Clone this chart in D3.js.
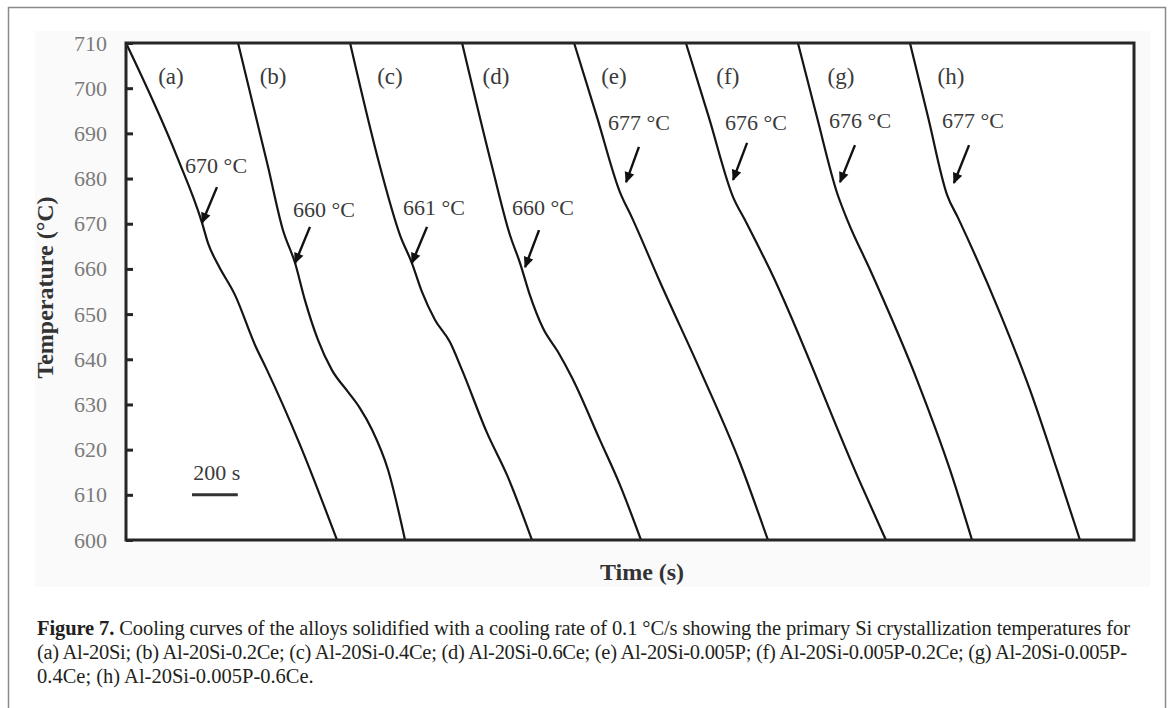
<!DOCTYPE html>
<html>
<head>
<meta charset="utf-8">
<script src="https://cdn.jsdelivr.net/npm/d3@7"></script>
<style>
  body { margin: 0; background: #fff; }
  text { font-family: "Liberation Serif", "Times New Roman", serif; }
</style>
</head>
<body>
<div class="cooling-chart"></div>
<script>
// cooling curves, [time (s), temperature (°C)]
var curveA = [[0, 710], [223, 684.8], [332, 670.2], [358, 665.7], [402, 660.9], [476, 654.2], [567, 642.7], [611, 638.1], [760, 621.0], [921, 600]];
var curveB = [[489, 710], [620, 682.6], [685, 668.6], [738, 661.3], [781, 653.1], [838, 644.3], [899, 637.6], [969, 632.8],
  [1021, 629.2], [1074, 624.4], [1144, 615.5], [1218, 600]];
var curveC = [[978, 710], [1109, 682.6], [1196, 667.5], [1248, 661.3], [1292, 654.9], [1349, 648.7], [1414, 643.8], [1467, 637.6],
  [1576, 623.7], [1663, 614.4], [1772, 600]];
var curveD = [[1467, 710], [1598, 682.6], [1676, 667.5], [1720, 661.3], [1763, 654.2], [1820, 646.9], [1886, 641.6], [1947, 635.9],
  [2069, 622.1], [2156, 612.2], [2248, 600]];
var curveE = [[1956, 710], [2056, 693.6], [2156, 677.0], [2209, 671.3], [2331, 657.1], [2506, 637.6], [2680, 617.1], [2802, 600]];
var curveF = [[2444, 710], [2544, 693.6], [2650, 675.9], [2702, 670.8], [2811, 659.8], [3204, 612.8], [3317, 600]];
var curveG = [[2933, 710], [3016, 693.6], [3104, 676.8], [3152, 670.4], [3248, 659.8], [3453, 635.4], [3597, 615.5], [3693, 600]];
var curveH = [[3422, 710], [3501, 693.6], [3584, 676.4], [3632, 671.3], [3815, 650.2], [3946, 633.2], [4064, 615.5], [4164, 600]];

var curves = [curveA, curveB, curveC, curveD, curveE, curveF, curveG, curveH];
var curveNames = ["(a)", "(b)", "(c)", "(d)", "(e)", "(f)", "(g)", "(h)"];
var nameTimes = [196, 642, 1152, 1615, 2130, 2627, 3121, 3601];
var nameTemp = 701;

// primary Si crystallization temperatures and their arrows
var onsetLabels = ["670 °C", "660 °C", "661 °C", "660 °C", "677 °C", "676 °C", "676 °C", "677 °C"];
var onsetLabelAt = [[258, 681.2], [729, 671.5], [1209, 671.9], [1685, 671.9], [2104, 690.7], [2615, 690.7], [3069, 691.2], [3562, 691.2]];
var arrowTail = [[397, 678.1], [803, 669.3], [1314, 669.3], [1803, 668.6], [2239, 687.0], [2711, 687.9], [3182, 687.4], [3680, 687.4]];
var arrowTip = [[332, 670.2], [738, 661.3], [1248, 661.3], [1742, 660.4], [2183, 679.2], [2650, 679.7], [3117, 679.2], [3614, 679.0]];

var yTicks = [600, 610, 620, 630, 640, 650, 660, 670, 680, 690, 700, 710];
var scaleBar = [288, 488];   // 200 s
var scaleBarTemp = 610;

var captionLines = [
  "Cooling curves of the alloys solidified with a cooling rate of 0.1 °C/s showing the primary Si crystallization temperatures for",
  "(a) Al-20Si; (b) Al-20Si-0.2Ce; (c) Al-20Si-0.4Ce; (d) Al-20Si-0.6Ce; (e) Al-20Si-0.005P; (f) Al-20Si-0.005P-0.2Ce; (g) Al-20Si-0.005P-",
  "0.4Ce; (h) Al-20Si-0.005P-0.6Ce."
];

var W = 1168, H = 708;
var plot = {left: 126, right: 1134, top: 43, bottom: 540};

var svg = d3.select(".cooling-chart")
  .append("svg")
  .attr("width", W)
  .attr("height", H);

svg.append("defs").append("marker")
    .attr("id", "head")
    .attr("viewBox", "0 0 10 10")
    .attr("refX", 9)
    .attr("refY", 5)
    .attr("markerUnits", "userSpaceOnUse")
    .attr("markerWidth", 12)
    .attr("markerHeight", 11)
    .attr("orient", "auto")
  .append("path")
    .attr("d", "M0,0.5 L10,5 L0,9.5 Z")
    .attr("fill", "#111");

// page frame and faint figure background
svg.append("rect")
  .attr("x", 8.5).attr("y", 7.5)
  .attr("width", 1157).attr("height", 720)
  .attr("fill", "none").attr("stroke", "#8a8a8a").attr("stroke-width", 1.5);

svg.append("rect")
  .attr("x", 35).attr("y", 31)
  .attr("width", 1115).attr("height", 556)
  .attr("fill", "#fafafa");

var x = d3.scaleLinear().domain([0, 4400]).range([plot.left, plot.right]);
var y = d3.scaleLinear().domain([600, 710]).range([plot.bottom, plot.top]);

svg.append("rect")
  .attr("x", plot.left).attr("y", plot.top)
  .attr("width", plot.right - plot.left).attr("height", plot.bottom - plot.top)
  .attr("fill", "#fff");

var line = d3.line()
  .x(function(d) { return x(d[0]); })
  .y(function(d) { return y(d[1]); })
  .curve(d3.curveMonotoneX);

svg.append("g").selectAll("path")
  .data(curves)
  .enter().append("path")
    .attr("d", line)
    .attr("fill", "none")
    .attr("stroke", "#151515")
    .attr("stroke-width", 2.2);

// plot frame
svg.append("rect")
  .attr("x", plot.left).attr("y", plot.top)
  .attr("width", plot.right - plot.left).attr("height", plot.bottom - plot.top)
  .attr("fill", "none").attr("stroke", "#262626").attr("stroke-width", 3);

var yAxis = svg.append("g")
  .attr("transform", "translate(" + plot.left + ",0)")
  .call(d3.axisLeft(y).tickValues(yTicks).tickSize(-7).tickPadding(19).tickFormat(d3.format("d")));
yAxis.select(".domain").remove();
yAxis.selectAll("line").attr("stroke", "#262626").attr("stroke-width", 3);
yAxis.selectAll("text")
  .attr("font-family", "Liberation Serif, serif")
  .attr("font-size", 22)
  .attr("fill", "#7b7b7b");

svg.append("text")
  .attr("transform", "translate(53," + ((plot.top + plot.bottom) / 2 - 4) + ") rotate(-90)")
  .attr("text-anchor", "middle")
  .attr("font-size", 24)
  .attr("font-weight", "bold")
  .attr("fill", "#333")
  .text("Temperature (°C)");

svg.append("text")
  .attr("x", 642).attr("y", 580)
  .attr("text-anchor", "middle")
  .attr("font-size", 24)
  .attr("font-weight", "bold")
  .attr("fill", "#333")
  .text("Time (s)");

// curve names
svg.append("g").selectAll("text")
  .data(curveNames)
  .enter().append("text")
    .attr("x", function(d, i) { return x(nameTimes[i]); })
    .attr("y", y(nameTemp))
    .attr("text-anchor", "middle")
    .attr("font-size", 23)
    .attr("fill", "#3a3a3a")
    .text(function(d) { return d; });

// onset temperatures
svg.append("g").selectAll("text")
  .data(onsetLabels)
  .enter().append("text")
    .attr("x", function(d, i) { return x(onsetLabelAt[i][0]); })
    .attr("y", function(d, i) { return y(onsetLabelAt[i][1]); })
    .attr("font-size", 22)
    .attr("fill", "#3a3a3a")
    .text(function(d) { return d; });

svg.append("g").selectAll("line")
  .data(arrowTip)
  .enter().append("line")
    .attr("x1", function(d, i) { return x(arrowTail[i][0]); })
    .attr("y1", function(d, i) { return y(arrowTail[i][1]); })
    .attr("x2", function(d) { return x(d[0]); })
    .attr("y2", function(d) { return y(d[1]); })
    .attr("stroke", "#111")
    .attr("stroke-width", 2.4)
    .attr("marker-end", "url(#head)");

// 200 s scale bar
svg.append("line")
  .attr("x1", x(scaleBar[0])).attr("x2", x(scaleBar[1]))
  .attr("y1", y(scaleBarTemp)).attr("y2", y(scaleBarTemp))
  .attr("stroke", "#333").attr("stroke-width", 3);

svg.append("text")
  .attr("x", (x(scaleBar[0]) + x(scaleBar[1])) / 2 + 2)
  .attr("y", y(scaleBarTemp) - 15)
  .attr("text-anchor", "middle")
  .attr("font-size", 22)
  .attr("fill", "#3a3a3a")
  .text("200 s");

// caption
var cap = svg.append("g").attr("fill", "#231f20").attr("font-size", 20.5);
var first = cap.append("text").attr("x", 37).attr("y", 635)
  .attr("textLength", 1093).attr("lengthAdjust", "spacing");
first.append("tspan").attr("font-weight", "bold").text("Figure 7. ");
first.append("tspan").text(captionLines[0]);
cap.append("text").attr("x", 37).attr("y", 659)
  .attr("textLength", 1090).attr("lengthAdjust", "spacing")
  .text(captionLines[1]);
cap.append("text").attr("x", 37).attr("y", 683)
  .text(captionLines[2]);
</script>
</body>
</html>
